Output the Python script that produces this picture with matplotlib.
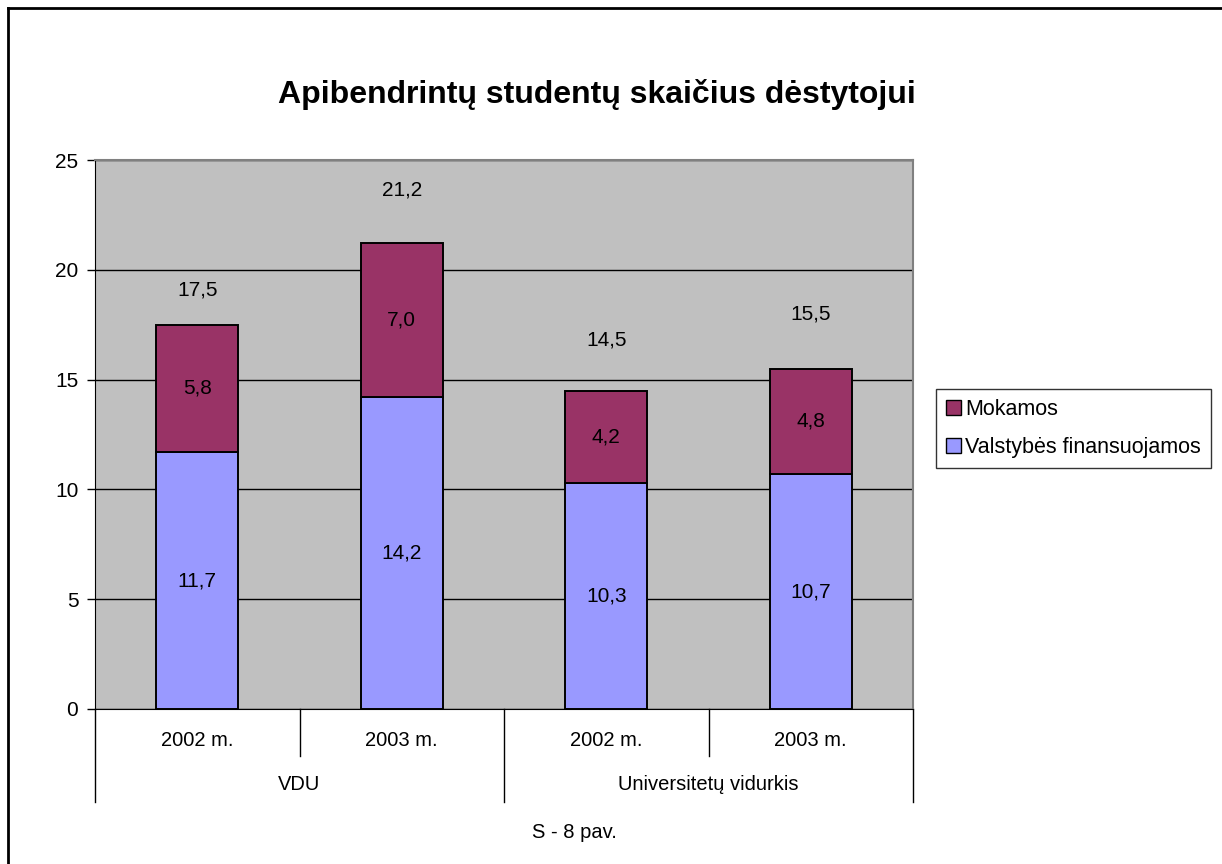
import matplotlib.pyplot as plt
from matplotlib.patches import Patch
from matplotlib.lines import Line2D
import numpy as np

plt.rcParams['font.family'] = ['Liberation Sans', 'DejaVu Sans']

# data
years = ['2002 m.', '2003 m.', '2002 m.', '2003 m.']
groups = ['VDU', 'Universitetų vidurkis']
valst = [11.7, 14.2, 10.3, 10.7]
mokamos = [5.8, 7.0, 4.2, 4.8]
totals = [17.5, 21.2, 14.5, 15.5]
total_pad = [1.6, 2.45, 2.3, 2.5]   # where excel put the total labels

c_valst = '#9999FF'
c_mok = '#993366'

fig = plt.figure(figsize=(12.22, 8.64), dpi=100)
ax = fig.add_axes([95/1222, 1-709/864, (913-95)/1222, (709-160)/864])
ax.set_facecolor('#C0C0C0')

x = np.arange(len(years))
ax.bar(x, valst, width=0.4, color=c_valst, edgecolor='black', lw=1.4, zorder=3)
ax.bar(x, mokamos, width=0.4, bottom=valst, color=c_mok, edgecolor='black', lw=1.4, zorder=3)

fs = 15
for i in range(len(x)):
    ax.text(x[i], valst[i]/2, ('%.1f' % valst[i]).replace('.', ','), ha='center', va='center', fontsize=fs, zorder=4)
    ax.text(x[i], valst[i] + mokamos[i]/2, ('%.1f' % mokamos[i]).replace('.', ','), ha='center', va='center', fontsize=fs, zorder=4)
    ax.text(x[i], totals[i] + total_pad[i], ('%.1f' % totals[i]).replace('.', ','), ha='center', va='center', fontsize=fs, zorder=4)

ax.set_xlim(-0.5, 3.5)
ax.set_ylim(0, 25)
ax.set_yticks([0, 5, 10, 15, 20, 25])
ax.tick_params(axis='y', labelsize=fs, length=6, width=1, pad=6)
ax.set_xticks([])
ax.grid(axis='y', color='black', lw=1, zorder=1)
ax.spines['top'].set_color('#808080')
ax.spines['right'].set_color('#808080')
ax.spines['top'].set_linewidth(1.5)
ax.spines['right'].set_linewidth(1.5)
ax.spines['left'].set_color('black')
ax.spines['bottom'].set_color('black')

# category axis with two levels
tr = ax.get_xaxis_transform()
long_y = (709-802)/549
short_y = (709-756)/549
for b in [-0.5, 1.5, 3.5]:
    ax.plot([b, b], [0, long_y], color='black', lw=1, transform=tr, clip_on=False)
for b in [0.5, 2.5]:
    ax.plot([b, b], [0, short_y], color='black', lw=1, transform=tr, clip_on=False)
for i in range(len(years)):
    ax.text(x[i], (709-740)/549, years[i], transform=tr, ha='center', va='center', fontsize=14.5)
for j in range(len(groups)):
    ax.text(0.5 + 2*j, (709-785)/549, groups[j], transform=tr, ha='center', va='center', fontsize=14.5)

fig.text(597/1222, 1-95/864, 'Apibendrintų studentų skaičius dėstytojui', ha='center', va='center',
         fontsize=23, fontweight='bold')
fig.text(574/1222, 1-832/864, 'S - 8 pav.', ha='center', va='center', fontsize=14.5)

handles = [Patch(facecolor=c_mok, edgecolor='black'), Patch(facecolor=c_valst, edgecolor='black')]
leg = fig.legend(handles, ['Mokamos', 'Valstybės finansuojamos'], loc='upper left',
                 bbox_to_anchor=(936/1222, 1-389/864), fontsize=15.5, frameon=True, fancybox=False,
                 handlelength=0.7, handleheight=0.7, handletextpad=0.2, borderpad=0.45,
                 labelspacing=0.8, borderaxespad=0)
leg.get_frame().set_edgecolor('black')
leg.get_frame().set_linewidth(1)

# outer frame (left and top only visible)
fig.add_artist(Line2D([8/1222, 8/1222], [0, 1-8/864], color='black', lw=2))
fig.add_artist(Line2D([8/1222, 1], [1-8/864, 1-8/864], color='black', lw=2))

fig.savefig('out.png', dpi=100)
